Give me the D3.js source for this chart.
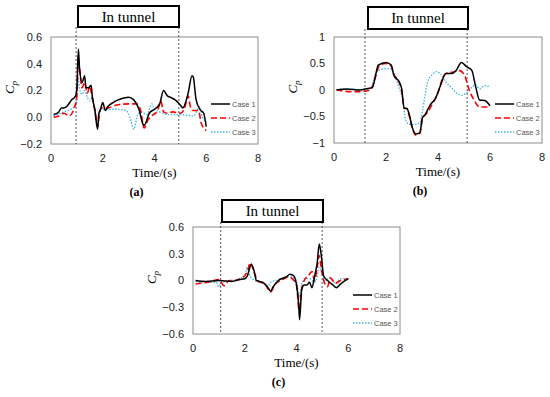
<!DOCTYPE html>
<html>
  <head>
    <meta charset="utf-8" />
    <title>Cp in tunnel</title>
    <script src="https://cdn.jsdelivr.net/npm/d3@7/dist/d3.min.js"></script>
    <style>
      body { margin: 0; background: #fff; }
      .serif { font-family: "Liberation Serif", "DejaVu Serif", "Times New Roman", serif; }
      .sans { font-family: "Liberation Sans", Arial, sans-serif; }
    </style>
  </head>
  <body>
    <div id="canvas"></div>
  </body>
  <script>
    // series as [time, Cp] pairs
    const caseNames = ["Case 1", "Case 2", "Case 3"];

    const a1 = [[0.1,0.02],[0.3,0.04],[0.4,0.07],[0.5,0.07],[0.6,0.08],[0.8,0.13],[0.95,0.16],[1.0,0.22],[1.06,0.51],[1.1,0.37],[1.2,0.26],[1.3,0.31],[1.35,0.22],[1.45,0.22],[1.55,0.24],[1.6,0.15],[1.7,0.05],[1.8,-0.09],[1.85,0.03],[1.9,0.05],[2.0,0.11],[2.1,0.05],[2.2,0.08],[2.4,0.11],[2.6,0.13],[3.0,0.15],[3.2,0.13],[3.4,0.06],[3.55,-0.05],[3.6,-0.06],[3.8,0.03],[4.0,0.06],[4.2,0.1],[4.35,0.2],[4.5,0.16],[4.6,0.15],[4.8,0.13],[5.0,0.09],[5.1,0.07],[5.2,0.11],[5.3,0.18],[5.45,0.31],[5.5,0.3],[5.6,0.14],[5.75,0.06],[5.9,0.03],[6.0,-0.07]];
    const a2 = [[0.1,0.0],[0.3,0.01],[0.5,0.03],[0.7,0.01],[0.9,0.07],[1.0,0.16],[1.05,0.45],[1.1,0.38],[1.2,0.22],[1.3,0.26],[1.4,0.18],[1.5,0.23],[1.6,0.14],[1.7,0.05],[1.8,-0.07],[1.9,0.06],[2.0,0.07],[2.2,0.07],[2.5,0.09],[3.0,0.1],[3.3,0.1],[3.45,0.06],[3.6,-0.08],[3.75,-0.02],[3.95,0.02],[4.1,0.04],[4.25,0.12],[4.35,0.04],[4.5,0.03],[4.7,0.04],[5.0,0.03],[5.15,0.06],[5.3,0.16],[5.4,0.07],[5.5,0.05],[5.7,0.05],[5.8,-0.04],[5.95,-0.09],[6.0,-0.1]];
    const a3 = [[0.1,0.01],[0.5,0.04],[0.9,0.08],[1.0,0.12],[1.05,0.3],[1.1,0.22],[1.2,0.17],[1.3,0.2],[1.4,0.15],[1.5,0.12],[1.6,0.15],[1.7,0.02],[1.8,-0.06],[1.9,0.06],[2.0,0.06],[2.5,0.06],[2.9,0.05],[3.05,0.0],[3.2,-0.09],[3.35,0.02],[3.5,0.04],[3.7,0.02],[3.9,0.1],[4.0,0.06],[4.2,0.04],[4.5,0.02],[5.0,0.02],[5.5,0.01],[5.75,0.08],[5.85,0.0],[6.0,-0.03]];

    const b1 = [[0.1,0.0],[0.5,0.02],[1.0,0.0],[1.3,0.03],[1.48,0.05],[1.6,0.28],[1.7,0.47],[2.0,0.52],[2.2,0.47],[2.3,0.28],[2.5,0.16],[2.6,0.03],[2.7,-0.34],[2.8,-0.35],[2.9,-0.47],[3.0,-0.69],[3.15,-0.83],[3.3,-0.81],[3.4,-0.53],[3.5,-0.47],[3.7,-0.28],[3.9,-0.16],[4.1,0.09],[4.3,0.31],[4.5,0.31],[4.7,0.37],[4.9,0.52],[5.1,0.44],[5.3,0.37],[5.45,0.06],[5.6,-0.19],[5.8,-0.2],[6.0,-0.3]];
    const b2 = [[0.1,0.0],[0.6,-0.03],[1.0,-0.03],[1.4,0.0],[1.6,0.25],[1.75,0.47],[2.0,0.5],[2.2,0.45],[2.3,0.3],[2.5,0.15],[2.6,0.0],[2.7,-0.35],[2.8,-0.35],[2.9,-0.5],[3.0,-0.7],[3.15,-0.85],[3.3,-0.82],[3.4,-0.55],[3.6,-0.42],[3.8,-0.25],[4.0,-0.05],[4.2,0.25],[4.4,0.33],[4.6,0.34],[4.8,0.37],[5.0,0.3],[5.2,0.0],[5.4,-0.2],[5.6,-0.32],[5.8,-0.32],[6.0,-0.32]];
    const b3 = [[0.1,0.01],[1.0,0.01],[1.4,0.03],[1.6,0.3],[1.75,0.38],[2.0,0.4],[2.2,0.4],[2.3,0.3],[2.5,0.05],[2.65,-0.2],[2.75,-0.55],[2.9,-0.65],[3.1,-0.65],[3.3,-0.62],[3.4,-0.4],[3.5,-0.1],[3.6,0.15],[3.8,0.3],[3.95,0.35],[4.1,0.3],[4.3,0.15],[4.5,0.05],[4.7,-0.05],[4.9,-0.1],[5.1,-0.05],[5.3,0.05],[5.45,0.1],[5.6,0.02],[5.8,0.08],[6.0,0.06]];

    const c1 = [[0.1,0.0],[0.5,-0.01],[1.0,0.0],[1.5,-0.01],[1.8,0.01],[2.0,0.02],[2.1,0.05],[2.2,0.15],[2.25,0.18],[2.35,0.12],[2.45,0.0],[2.7,-0.02],[2.9,-0.08],[3.0,-0.12],[3.1,-0.07],[3.3,0.0],[3.6,0.04],[3.75,0.07],[3.9,0.05],[4.0,-0.05],[4.08,-0.25],[4.12,-0.44],[4.2,-0.1],[4.3,-0.05],[4.4,-0.05],[4.5,-0.02],[4.6,-0.08],[4.7,0.05],[4.8,0.2],[4.88,0.41],[4.95,0.3],[5.05,0.05],[5.2,0.0],[5.4,-0.05],[5.55,-0.08],[5.7,-0.04],[6.0,0.02]];
    const c2 = [[0.1,-0.04],[0.3,-0.03],[0.6,-0.02],[1.0,0.01],[1.2,-0.06],[1.4,0.0],[1.6,0.0],[1.9,0.03],[2.1,0.1],[2.22,0.2],[2.35,0.1],[2.5,0.0],[2.8,-0.05],[3.0,-0.13],[3.15,-0.05],[3.4,0.0],[3.7,0.04],[3.9,0.0],[4.0,-0.05],[4.1,-0.33],[4.2,-0.1],[4.3,0.0],[4.45,0.05],[4.6,0.1],[4.7,0.0],[4.8,0.15],[4.88,0.28],[4.95,0.15],[5.05,0.0],[5.2,-0.07],[5.3,0.03],[5.5,-0.03],[5.7,0.0],[6.0,0.02]];
    const c3 = [[0.1,-0.01],[0.5,-0.02],[0.9,-0.02],[1.0,-0.07],[1.1,-0.02],[1.5,0.0],[2.0,0.05],[2.1,0.15],[2.2,0.05],[2.4,0.0],[2.7,-0.03],[2.9,-0.06],[3.0,-0.02],[3.2,0.0],[3.5,0.03],[3.8,0.04],[4.0,0.0],[4.1,-0.18],[4.2,-0.05],[4.3,0.02],[4.5,0.02],[4.7,-0.02],[4.8,0.05],[4.88,0.15],[4.95,0.12],[5.1,0.0],[5.3,0.03],[5.5,-0.03],[5.7,0.02],[6.0,0.02]];

    const xTicks = [0, 2, 4, 6, 8];
    const aTicks = [-0.2, 0, 0.2, 0.4, 0.6];
    const bTicks = [-1, -0.5, 0, 0.5, 1];
    const cTicks = [-0.6, -0.3, 0, 0.3, 0.6];
    const tunnelA = [0.97, 4.94];
    const tunnelB = [1.19, 5.12];
    const tunnelC = [1.07, 4.99];

    const width = 550, height = 397;
    const colors = ["#000000", "#ff0000", "#3fb3e6"];
    const dashes = [null, "6,3", "1.5,1.5"];
    const widths = [1.5, 1.6, 1.3];

    const svg = d3.select("#canvas").append("svg")
      .attr("width", width).attr("height", height);

    const panels = [
      { x0: 51, x1: 258, y0: 37, y1: 144, ticks: aTicks, fmt: d3.format(".1f"), series: [a1, a2, a3], tunnel: tunnelA, box: [78, 179, 6, 27], tag: "(a)", legX: 211, legY: 104 },
      { x0: 334, x1: 542, y0: 37, y1: 143, ticks: bTicks, fmt: d => d3.format("")(d), series: [b1, b2, b3], tunnel: tunnelB, box: [368, 468, 7, 29], tag: "(b)", legX: 495, legY: 104 },
      { x0: 193, x1: 400, y0: 227, y1: 334, ticks: cTicks, fmt: d => d === 0 ? "0" : d3.format(".1f")(d), series: [c1, c2, c3], tunnel: tunnelC, box: [222, 323, 200, 222], tag: "(c)", legX: 353, legY: 295 }
    ];

    panels.forEach(p => {
      const x = d3.scaleLinear().domain([0, 8]).range([p.x0, p.x1]);
      const y = d3.scaleLinear().domain([p.ticks[0], p.ticks[p.ticks.length - 1]]).range([p.y1, p.y0]);
      const g = svg.append("g");

      // plot frame
      g.append("rect")
        .attr("x", p.x0).attr("y", p.y0)
        .attr("width", p.x1 - p.x0).attr("height", p.y1 - p.y0)
        .attr("fill", "none").attr("stroke", "#8c8c8c").attr("stroke-width", 1);

      // tick labels
      g.append("g").selectAll("text").data(p.ticks).join("text")
        .attr("class", "sans")
        .attr("x", p.x0 - 9).attr("y", d => y(d)).attr("dy", "0.35em")
        .attr("text-anchor", "end").attr("font-size", 11).attr("fill", "#222")
        .text(p.fmt);
      g.append("g").selectAll("text").data(xTicks).join("text")
        .attr("class", "sans")
        .attr("x", d => x(d)).attr("y", p.y1 + 18)
        .attr("text-anchor", "middle").attr("font-size", 11).attr("fill", "#222")
        .text(d => d);

      // axis titles
      g.append("text")
        .attr("class", "serif")
        .attr("x", (p.x0 + p.x1) / 2).attr("y", p.y1 + 33)
        .attr("text-anchor", "middle").attr("font-size", 13)
        .text("Time/(s)");
      const yl = g.append("text")
        .attr("class", "serif")
        .attr("transform", `translate(${p.x0 - 37},${(p.y0 + p.y1) / 2 - 3}) rotate(-90)`)
        .attr("text-anchor", "middle").attr("font-size", 13);
      yl.append("tspan").attr("font-style", "italic").text("C");
      yl.append("tspan").attr("font-style", "italic").attr("font-size", 9).attr("dy", 3).text("p");

      // panel tag
      g.append("text")
        .attr("class", "serif")
        .attr("x", (p.x0 + p.x1) / 2 - 18).attr("y", p.y1 + 52)
        .attr("text-anchor", "middle").attr("font-size", 12).attr("font-weight", "bold")
        .text(p.tag);

      // tunnel marks
      g.append("g").selectAll("line").data(p.tunnel).join("line")
        .attr("x1", d => x(d)).attr("x2", d => x(d))
        .attr("y1", p.box[3]).attr("y2", p.y1)
        .attr("stroke", "#444").attr("stroke-width", 0.9).attr("stroke-dasharray", "2,2");
      g.append("rect")
        .attr("x", p.box[0]).attr("y", p.box[2])
        .attr("width", p.box[1] - p.box[0]).attr("height", p.box[3] - p.box[2])
        .attr("fill", "#fff").attr("stroke", "#000").attr("stroke-width", 2);
      g.append("text")
        .attr("class", "serif")
        .attr("x", (p.box[0] + p.box[1]) / 2).attr("y", (p.box[2] + p.box[3]) / 2)
        .attr("dy", "0.35em").attr("text-anchor", "middle").attr("font-size", 15)
        .text("In tunnel");

      // curves
      const line = d3.line().x(d => x(d[0])).y(d => y(d[1])).curve(d3.curveMonotoneX);
      [2, 1, 0].forEach(i => {
        g.append("path")
          .datum(p.series[i])
          .attr("d", line)
          .attr("fill", "none")
          .attr("stroke", colors[i])
          .attr("stroke-width", widths[i])
          .attr("stroke-dasharray", dashes[i]);
      });

      // legend
      const leg = g.append("g").selectAll("g").data(caseNames).join("g")
        .attr("transform", (d, i) => `translate(${p.legX},${p.legY + i * 14})`);
      leg.append("line")
        .attr("x1", 0).attr("x2", 19)
        .attr("stroke", (d, i) => colors[i])
        .attr("stroke-width", (d, i) => widths[i])
        .attr("stroke-dasharray", (d, i) => dashes[i]);
      leg.append("text")
        .attr("class", "sans")
        .attr("x", 21).attr("dy", "0.35em")
        .attr("font-size", 7.5).attr("fill", "#555")
        .text(d => d);
    });
  </script>
</html>
